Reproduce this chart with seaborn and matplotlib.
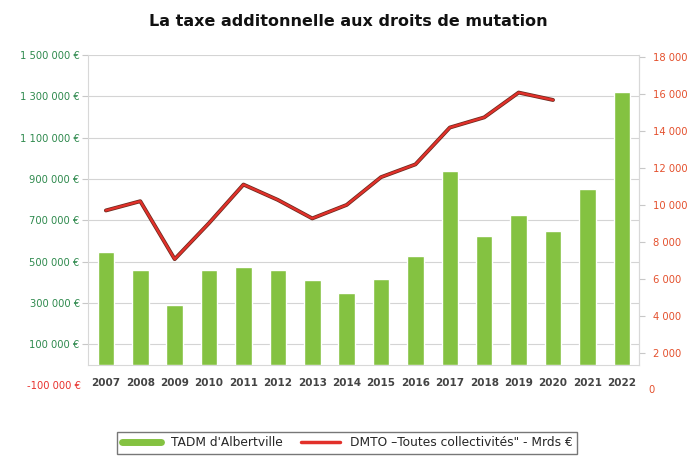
import pandas as pd
import matplotlib
matplotlib.use("Agg")
import matplotlib.pyplot as plt
import matplotlib.patheffects as pe
from matplotlib.lines import Line2D
import seaborn as sns

# data
years = [2007, 2008, 2009, 2010, 2011, 2012, 2013, 2014,
         2015, 2016, 2017, 2018, 2019, 2020, 2021, 2022]
tadm = [547000, 462000, 292000, 462000, 474000, 462000, 413000, 348000,
        418000, 526000, 941000, 623000, 725000, 647000, 852000, 1322000]

dmto_years = [2007, 2008, 2009, 2010, 2011, 2012, 2013, 2014,
              2015, 2016, 2017, 2018, 2019, 2020]
dmto = [9700, 10200, 7070, 9020, 11100, 10270, 9270, 10000,
        11500, 12190, 14180, 14730, 16070, 15670]

left_ticks = [100000, 300000, 500000, 700000, 900000, 1100000, 1300000, 1500000]
right_ticks = [2000, 4000, 6000, 8000, 10000, 12000, 14000, 16000, 18000]

title = "La taxe additonnelle aux droits de mutation"
bar_label = "TADM d'Albertville"
line_label = "DMTO \u2013Toutes collectivités\" - Mrds €"

GREEN = "#84c241"
RED = "#e2302a"


def fmt(v):
    return f"{v:,}".replace(",", " ")


def main():
    sns.set_style("white")
    plt.rcParams["font.family"] = ["DejaVu Sans"]

    df_bar = pd.DataFrame({"year": [str(y) for y in years], "tadm": tadm})
    df_line = pd.DataFrame({"pos": [years.index(y) for y in dmto_years], "dmto": dmto})

    fig = plt.figure(figsize=(6.9, 4.57), dpi=100)
    ax = fig.add_axes([88 / 690, 1 - 365 / 457, (639 - 88) / 690, (365 - 55) / 457])

    sns.barplot(data=df_bar, x="year", y="tadm", color=GREEN, width=0.48,
                saturation=1, ax=ax, zorder=3)
    ax.set_xlim(-0.52, 15.5)
    ax.set_ylim(0, 1500000)
    ax.set_yticks(left_ticks)
    ax.set_yticklabels([fmt(v) + " €" for v in left_ticks])
    ax.tick_params(axis="y", colors="#c8c8c8", labelcolor="#2f8a4e",
                   labelsize=7.2, length=4, pad=2)
    ax.tick_params(axis="x", length=0, pad=9, labelsize=7.5, labelcolor="#444444")
    for lab in ax.get_xticklabels():
        lab.set_fontweight("bold")
    ax.yaxis.grid(True, color="#d4d4d4", lw=0.8)
    ax.set_axisbelow(True)
    ax.set_xlabel("")
    ax.set_ylabel("")
    ax.spines["top"].set_visible(False)
    for s in ["left", "right", "bottom"]:
        ax.spines[s].set_color("#d8d8d8")
    ax.text(-0.013, -100000, "-100 000 €", transform=ax.get_yaxis_transform(),
            ha="right", va="center", fontsize=7.2, color="#e8322e", clip_on=False)

    ax2 = ax.twinx()
    sns.lineplot(data=df_line, x="pos", y="dmto", color=RED, lw=1.7, ax=ax2,
                 path_effects=[pe.Stroke(linewidth=2.8, foreground="#6b2a1e"), pe.Normal()])
    ax2.set_ylim(1350, 18100)
    ax2.set_yticks(right_ticks)
    ax2.set_yticklabels([fmt(v) for v in right_ticks])
    ax2.tick_params(axis="y", colors="#c8c8c8", labelcolor="#e4512e",
                    labelsize=7.2, length=4, pad=6)
    ax2.set_xlabel("")
    ax2.set_ylabel("")
    for s in ["top", "left", "bottom"]:
        ax2.spines[s].set_visible(False)
    ax2.spines["right"].set_color("#d8d8d8")
    ax2.text(1.017, 0, "0", transform=ax2.get_yaxis_transform(),
             ha="left", va="center", fontsize=7.2, color="#e4512e", clip_on=False)

    fig.text(348 / 690, 1 - 21 / 457, title, ha="center", va="center",
             fontsize=11.5, fontweight="bold", color="#111111")

    handles = [Line2D([0], [0], color=GREEN, lw=5),
               Line2D([0], [0], color=RED, lw=2.5)]
    leg = fig.legend(handles, [bar_label, line_label], ncol=2, loc="center",
                     bbox_to_anchor=(347 / 690, 1 - 443 / 457), fontsize=8.8,
                     frameon=True, fancybox=False, edgecolor="#555555",
                     handlelength=3.2, columnspacing=1.5, borderpad=0.35)
    leg.get_frame().set_linewidth(1.0)

    fig.savefig("out.png", dpi=100)


if __name__ == "__main__":
    main()
